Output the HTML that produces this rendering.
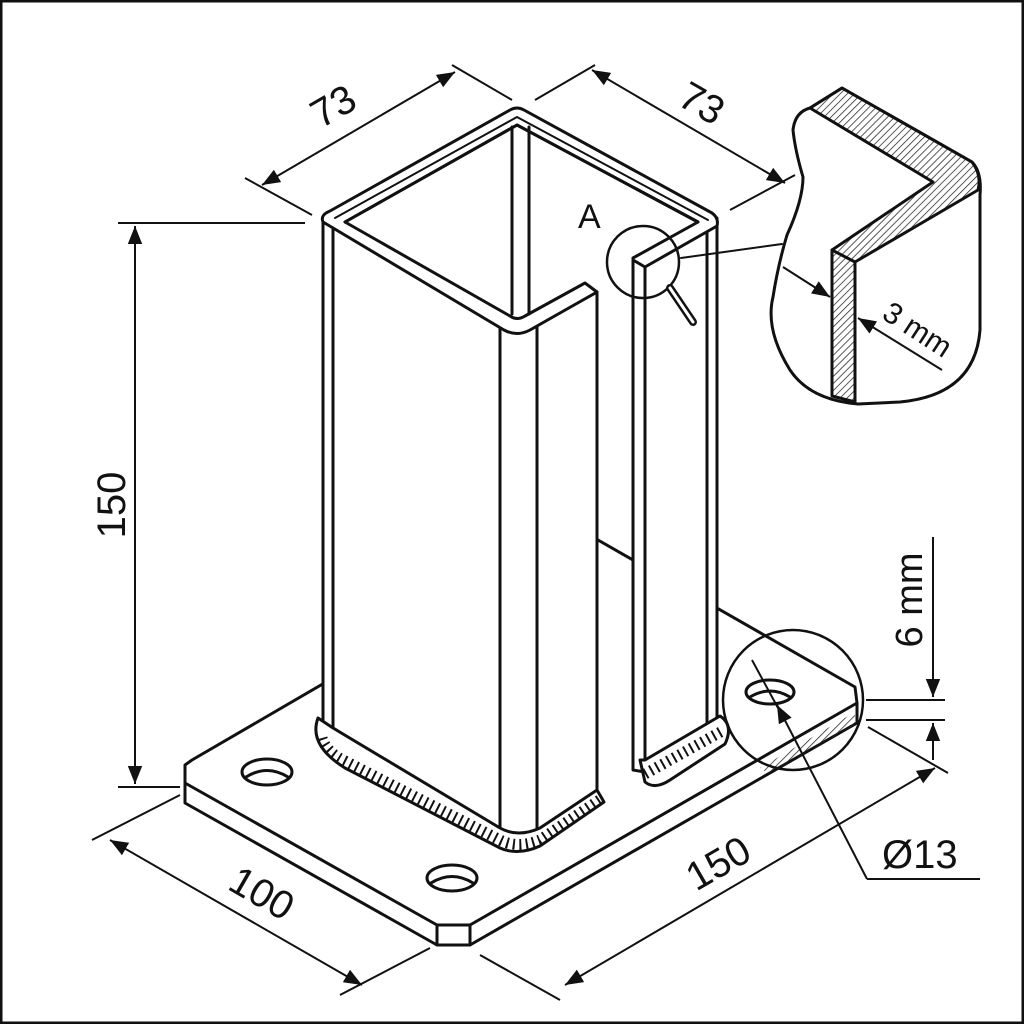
<!DOCTYPE html>
<html><head><meta charset="utf-8"><style>
html,body{margin:0;padding:0;background:#fff;}
svg{display:block;}
text{font-family:"Liberation Sans",sans-serif;fill:#111;}
</style></head><body>
<svg width="1024" height="1024" viewBox="0 0 1024 1024" xmlns="http://www.w3.org/2000/svg">
<defs>
<marker id="a" viewBox="0 0 10 10" refX="10" refY="5" markerWidth="9" markerHeight="9" orient="auto-start-reverse"><path d="M0,1 L10,5 L0,9 z" fill="#111"/></marker>
<pattern id="h" width="5" height="5" patternUnits="userSpaceOnUse" patternTransform="rotate(45)"><line x1="0" y1="0" x2="0" y2="5" stroke="#222" stroke-width="1.5"/></pattern>
</defs>
<rect x="1" y="1" width="1022" height="1022" fill="#fff" stroke="#111" stroke-width="3"/>
<g stroke="#111" stroke-width="3" fill="#fff" stroke-linejoin="round" stroke-linecap="round">
<!-- base plate -->
<path d="M185,765 L192,760 L584,532 L855,687 L857,703 L470,925 L437,925 L185,783 Z"/>
<path d="M185,783 L185,803 L437,945 L470,945 L857,723 L857,703" fill="none"/>
<line x1="437" y1="925" x2="437" y2="945"/><line x1="470" y1="925" x2="470" y2="945"/>
<path d="M760,768 L855,712 L855,725 L770,775 Z" fill="url(#h)" stroke="none"/>
<ellipse cx="267" cy="772" rx="25" ry="13"/><path d="M246,777 Q267,764 288,777" fill="none"/>
<ellipse cx="452" cy="878" rx="25" ry="13"/><path d="M431,883 Q452,870 473,883" fill="none"/>
<ellipse cx="770" cy="692" rx="24" ry="12"/><path d="M750,697 Q770,685 790,697" fill="none"/>
<!-- post faces -->
<path d="M323,220 L333,226 L333,728 L323,722 Z"/>
<path d="M333,226 L500,325 L500,835 L333,728 Z"/>
<path d="M500,325 L537,325 L537,833 L500,835 Z"/>
<path d="M537,325 L597,292 L597,800 L537,833 Z"/>
<!-- right panel -->
<path d="M633,258 L717,218 L717,728 L645,772 L633,770 Z"/>
<line x1="645" y1="265" x2="645" y2="772"/><line x1="707" y1="230" x2="707" y2="733"/>
<!-- top rim -->
<path d="M323,222 Q320,215 330,211 L510,110 Q517,106 524,110 L712,213 Q719,218 717,226 L645,267 L633,260 L633,258 L698,222 L517,125 L345,222 L510,316 Q517,321 525,316 L585,283 L597,292 L530,330 Q517,337 504,330 Z"/>
<path d="M345,222 L517,125 L698,222" fill="none"/>
<path d="M335,218 L517,117 L708,220" fill="none" stroke-width="2"/>
<line x1="512" y1="127" x2="512" y2="314"/><line x1="529" y1="127" x2="529" y2="314"/>
<!-- welds -->
<path d="M318,718 Q308,745 345,768 L500,848 Q518,856 540,846 L604,802 L597,790 L540,828 Q518,838 500,828 L333,728 Z"/>
<path d="M322,738 Q326,752 345,761 L500,840 Q518,849 540,840 L601,799" fill="none" stroke-width="11" stroke-dasharray="2 4.5" stroke-linecap="butt"/>
<path d="M640,760 L645,782 Q655,790 670,780 L725,744 Q734,725 720,716 L645,760 Z"/>
<path d="M645,774 L724,730" fill="none" stroke-width="11" stroke-dasharray="2 4.5" stroke-linecap="butt"/>
<!-- magnifier -->
<circle cx="643" cy="262" r="36" fill="none" stroke-width="2.5"/>
<line x1="670" y1="288" x2="693" y2="322" stroke-width="8"/><line x1="670" y1="288" x2="693" y2="322" stroke="#fff" stroke-width="3"/>
<line x1="681" y1="258" x2="782" y2="244" stroke-width="2"/>
<!-- detail bubble -->
<path d="M810,108 L842,88 L972,162 Q982,172 980,195 L980,330 Q975,395 900,402 L858,404 Q810,400 790,370 Q765,330 773,297 Q778,265 787,235 Q803,200 803,177 Q795,150 793,130 Q795,112 810,108 Z"/>
<path d="M810,108 L842,88 L972,162 Q982,175 978,190 L855,262 L855,402 L832,396 L832,250 L933,182 Z" fill="url(#h)"/>
<path d="M832,250 L855,262" fill="none"/>
<!-- detail circle at plate -->
<circle cx="793" cy="700" r="70" fill="none" stroke-width="2.5"/>
</g>
<g stroke="#111" stroke-width="2" fill="none">
<line x1="245" y1="178" x2="312" y2="215"/><line x1="452" y1="65" x2="512" y2="100"/>
<line x1="262" y1="185" x2="455" y2="72" marker-start="url(#a)" marker-end="url(#a)"/>
<line x1="535" y1="100" x2="595" y2="65"/><line x1="730" y1="210" x2="795" y2="175"/>
<line x1="592" y1="70" x2="785" y2="183" marker-start="url(#a)" marker-end="url(#a)"/>
<line x1="118" y1="223" x2="305" y2="223"/><line x1="118" y1="787" x2="180" y2="787"/>
<line x1="135" y1="226" x2="135" y2="784" marker-start="url(#a)" marker-end="url(#a)"/>
<line x1="92" y1="840" x2="180" y2="795"/><line x1="340" y1="995" x2="430" y2="948"/>
<line x1="110" y1="840" x2="362" y2="985" marker-start="url(#a)" marker-end="url(#a)"/>
<line x1="480" y1="955" x2="560" y2="1000"/><line x1="868" y1="727" x2="948" y2="773"/>
<line x1="565" y1="985" x2="935" y2="768" marker-start="url(#a)" marker-end="url(#a)"/>
<line x1="866" y1="700" x2="945" y2="700"/><line x1="866" y1="720" x2="945" y2="720"/>
<line x1="933" y1="537" x2="933" y2="697" marker-end="url(#a)"/>
<line x1="933" y1="760" x2="933" y2="723" marker-end="url(#a)"/>
<line x1="867" y1="879" x2="980" y2="879"/>
<line x1="867" y1="879" x2="777" y2="705" marker-end="url(#a)"/>
<line x1="752" y1="660" x2="778" y2="708"/>
<line x1="783" y1="267" x2="830" y2="297" marker-end="url(#a)"/>
<line x1="942" y1="370" x2="858" y2="318" marker-end="url(#a)"/>
</g>
<text x="340" y="118" font-size="40" transform="rotate(-30 340 118)" text-anchor="middle">73</text>
<text x="695" y="115" font-size="40" transform="rotate(30 695 115)" text-anchor="middle">73</text>
<text x="125" y="505" font-size="40" transform="rotate(-90 125 505)" text-anchor="middle">150</text>
<text x="255" y="905" font-size="40" transform="rotate(30 255 905)" text-anchor="middle">100</text>
<text x="725" y="875" font-size="40" transform="rotate(-30 725 875)" text-anchor="middle">150</text>
<text x="922" y="600" font-size="38" transform="rotate(-90 922 600)" text-anchor="middle">6 mm</text>
<text x="882" y="868" font-size="40">Ø13</text>
<text x="578" y="228" font-size="34">A</text>
<text x="912" y="338" font-size="30" transform="rotate(33 912 338)" text-anchor="middle">3 mm</text>
</svg>
</body></html>
